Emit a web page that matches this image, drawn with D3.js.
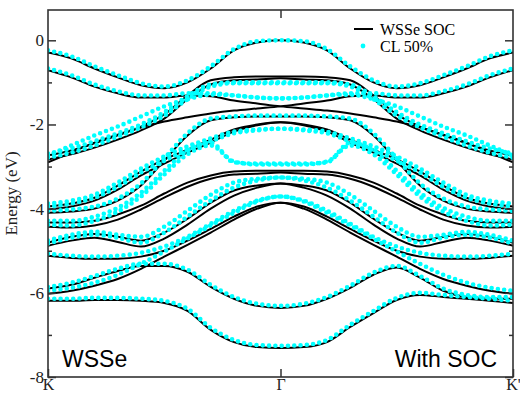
<!DOCTYPE html>
<html>
<head>
<meta charset="utf-8">
<script src="https://cdn.jsdelivr.net/npm/d3@7/dist/d3.min.js"></script>
<style>
  html, body { margin: 0; padding: 0; background: #fff; }
  svg { display: block; }
  .tick text { font-family: "Liberation Serif", "DejaVu Serif", serif; font-size: 17px; fill: #222; }
</style>
</head>
<body>
<div id="chart"></div>
<script>
// k path K -> Gamma -> K' (fraction of path)
const kPts = [0, 0.05, 0.1, 0.15, 0.2, 0.25, 0.3, 0.35, 0.4, 0.45, 0.5,
              0.55, 0.6, 0.65, 0.7, 0.75, 0.8, 0.85, 0.9, 0.95, 1];
const kTicks = [0, 0.5, 1];
const kLabels = ['K', 'Γ', "K'"];
const eMajor = [0, -2, -4, -6, -8];
const eMinor = [-1, -3, -5, -7];

// WSSe SOC bands (eV)
const socB1 = [-0.29,-0.43,-0.67,-0.88,-1.07,-1.14,-1.00,-0.67,-0.24,-0.05,0,-0.05,-0.24,-0.67,-1.00,-1.14,-1.07,-0.88,-0.67,-0.43,-0.29];
const socB2 = [-0.71,-0.88,-1.10,-1.26,-1.36,-1.36,-1.31,-1.33,-1.43,-1.50,-1.57,-1.62,-1.67,-1.74,-1.83,-1.93,-2.07,-2.24,-2.43,-2.67,-2.90];
const socB3 = [-2.90,-2.67,-2.43,-2.24,-2.07,-1.93,-1.83,-1.74,-1.67,-1.62,-1.57,-1.50,-1.43,-1.33,-1.31,-1.36,-1.36,-1.26,-1.10,-0.88,-0.71];
const socB4 = [-2.74,-2.62,-2.45,-2.26,-2.05,-1.76,-1.31,-0.95,-0.88,-0.86,-0.86,-0.86,-0.88,-0.95,-1.31,-1.76,-2.05,-2.26,-2.45,-2.62,-2.74];
const socB5 = [-2.83,-2.71,-2.55,-2.36,-2.14,-1.86,-1.40,-1.05,-0.95,-0.93,-0.90,-0.93,-0.95,-1.05,-1.40,-1.86,-2.14,-2.36,-2.55,-2.71,-2.83];
const socB6 = [-4.10,-4.07,-4.00,-3.81,-3.45,-2.86,-2.26,-1.90,-1.83,-1.81,-1.81,-1.81,-1.83,-1.90,-2.26,-2.86,-3.45,-3.81,-4.00,-4.07,-4.10];
const socB7 = [-3.95,-3.88,-3.74,-3.45,-3.12,-2.83,-2.60,-2.36,-2.12,-2.00,-1.95,-2.00,-2.12,-2.36,-2.60,-2.83,-3.12,-3.45,-3.74,-3.88,-3.95];
const socB8 = [-4.02,-3.95,-3.81,-3.55,-3.21,-2.93,-2.67,-2.43,-2.17,-2.02,-1.95,-2.02,-2.17,-2.43,-2.67,-2.93,-3.21,-3.55,-3.81,-3.95,-4.02];
const socB9 = [-4.33,-4.33,-4.29,-4.14,-3.93,-3.64,-3.38,-3.21,-3.12,-3.10,-3.10,-3.10,-3.12,-3.21,-3.38,-3.64,-3.93,-4.14,-4.29,-4.33,-4.33];
const socB10 = [-4.43,-4.45,-4.40,-4.26,-4.02,-3.74,-3.48,-3.29,-3.19,-3.17,-3.14,-3.17,-3.19,-3.29,-3.48,-3.74,-4.02,-4.26,-4.40,-4.45,-4.43];
const socB11 = [-4.81,-4.67,-4.60,-4.67,-4.76,-4.57,-4.24,-3.86,-3.57,-3.45,-3.40,-3.45,-3.57,-3.86,-4.24,-4.57,-4.76,-4.67,-4.60,-4.67,-4.81];
const socB12 = [-4.88,-4.76,-4.69,-4.79,-4.90,-4.71,-4.38,-4.00,-3.69,-3.50,-3.40,-3.50,-3.69,-4.00,-4.38,-4.71,-4.90,-4.79,-4.69,-4.76,-4.88];
const socB13 = [-5.12,-5.17,-5.19,-5.19,-5.14,-5.00,-4.76,-4.48,-4.19,-3.95,-3.86,-3.95,-4.19,-4.48,-4.76,-5.00,-5.14,-5.19,-5.19,-5.17,-5.12];
const socB14 = [-6.02,-5.95,-5.83,-5.67,-5.43,-5.14,-4.86,-4.57,-4.26,-4.00,-3.86,-4.00,-4.26,-4.57,-4.86,-5.14,-5.43,-5.67,-5.83,-5.95,-6.02];
const socB15 = [-5.90,-5.81,-5.64,-5.48,-5.36,-5.36,-5.50,-5.86,-6.14,-6.31,-6.36,-6.31,-6.14,-5.88,-5.57,-5.40,-5.64,-5.95,-6.10,-6.14,-6.14];
const socB16 = [-6.19,-6.19,-6.17,-6.17,-6.19,-6.24,-6.43,-6.88,-7.17,-7.29,-7.31,-7.29,-7.17,-6.81,-6.48,-6.17,-6.05,-6.10,-6.14,-6.19,-6.24];

// CL 50% bands (eV)
const clB1 = [-0.24,-0.38,-0.62,-0.83,-1.02,-1.10,-0.95,-0.62,-0.21,-0.02,0,-0.02,-0.21,-0.62,-0.95,-1.10,-1.02,-0.83,-0.62,-0.38,-0.24];
const clB2 = [-0.67,-0.83,-1.05,-1.21,-1.31,-1.31,-1.26,-1.26,-1.31,-1.36,-1.38,-1.36,-1.31,-1.29,-1.40,-1.57,-1.81,-2.05,-2.26,-2.50,-2.74];
const clB3 = [-2.74,-2.50,-2.26,-2.05,-1.81,-1.57,-1.40,-1.29,-1.31,-1.36,-1.38,-1.36,-1.31,-1.26,-1.26,-1.31,-1.31,-1.21,-1.05,-0.83,-0.67];
const clB4 = [-2.69,-2.57,-2.40,-2.21,-2.00,-1.71,-1.33,-1.05,-1.00,-1.00,-1.00,-1.00,-1.00,-1.05,-1.33,-1.71,-2.00,-2.21,-2.40,-2.57,-2.69];
const clB5 = [-2.79,-2.67,-2.50,-2.29,-2.07,-1.79,-1.40,-1.10,-1.02,-1.02,-1.02,-1.02,-1.02,-1.10,-1.40,-1.79,-2.07,-2.29,-2.50,-2.67,-2.79];
const clB6 = [-4.05,-4.02,-3.95,-3.76,-3.40,-2.81,-2.21,-1.86,-1.81,-1.79,-1.79,-1.79,-1.81,-1.86,-2.21,-2.81,-3.40,-3.76,-3.95,-4.02,-4.05];
const clB7 = [-3.88,-3.81,-3.67,-3.38,-3.05,-2.76,-2.52,-2.33,-2.17,-2.12,-2.10,-2.12,-2.17,-2.33,-2.52,-2.76,-3.05,-3.38,-3.67,-3.81,-3.88];
const clB8 = [-3.95,-3.88,-3.74,-3.48,-3.14,-2.86,-2.60,-2.40,-2.21,-2.14,-2.10,-2.14,-2.21,-2.40,-2.60,-2.86,-3.14,-3.48,-3.74,-3.88,-3.95];
const clB9 = [-4.29,-4.29,-4.19,-3.98,-3.62,-3.10,-2.62,-2.43,-2.90,-2.93,-2.93,-2.93,-2.90,-2.43,-2.62,-3.10,-3.62,-3.98,-4.19,-4.29,-4.29];
const clB10 = [-4.38,-4.40,-4.29,-4.07,-3.71,-3.19,-2.71,-2.50,-2.88,-2.95,-2.95,-2.95,-2.88,-2.50,-2.71,-3.19,-3.71,-4.07,-4.29,-4.40,-4.38];
const clB11 = [-4.76,-4.62,-4.55,-4.62,-4.67,-4.43,-4.05,-3.67,-3.38,-3.29,-3.26,-3.29,-3.38,-3.67,-4.05,-4.43,-4.67,-4.62,-4.55,-4.62,-4.76];
const clB12 = [-4.83,-4.69,-4.62,-4.69,-4.81,-4.57,-4.19,-3.81,-3.50,-3.33,-3.26,-3.33,-3.50,-3.81,-4.19,-4.57,-4.81,-4.69,-4.62,-4.69,-4.83];
const clB13 = [-5.07,-5.12,-5.14,-5.12,-5.05,-4.90,-4.67,-4.36,-4.05,-3.81,-3.71,-3.81,-4.05,-4.36,-4.67,-4.90,-5.05,-5.12,-5.14,-5.12,-5.07];
const clB14 = [-5.95,-5.88,-5.76,-5.57,-5.31,-5.02,-4.71,-4.40,-4.10,-3.83,-3.71,-3.83,-4.10,-4.40,-4.71,-5.02,-5.31,-5.57,-5.76,-5.88,-5.95];
const clB15 = [-5.86,-5.76,-5.60,-5.43,-5.31,-5.31,-5.45,-5.81,-6.10,-6.26,-6.31,-6.26,-6.10,-5.83,-5.52,-5.36,-5.60,-5.90,-6.05,-6.10,-6.10];
const clB16 = [-6.14,-6.14,-6.12,-6.12,-6.14,-6.19,-6.38,-6.83,-7.12,-7.24,-7.26,-7.24,-7.12,-6.76,-6.43,-6.12,-6.00,-6.05,-6.10,-6.14,-6.19];

const socBands = [socB1, socB2, socB3, socB4, socB5, socB6, socB7, socB8,
                  socB9, socB10, socB11, socB12, socB13, socB14, socB15, socB16];
const clBands = [clB1, clB2, clB3, clB4, clB5, clB6, clB7, clB8,
                 clB9, clB10, clB11, clB12, clB13, clB14, clB15, clB16];

const width = 520, height = 395;
const margin = {left: 48, right: 7, top: 10, bottom: 18};
const innerW = width - margin.left - margin.right;
const innerH = height - margin.top - margin.bottom;

const svg = d3.select('#chart').append('svg')
    .attr('width', width)
    .attr('height', height);

svg.append('rect').attr('width', width).attr('height', height).attr('fill', '#fff');

const chart = svg.append('g')
    .attr('transform', `translate(${margin.left},${margin.top})`);

const xScale = d3.scaleLinear().domain([0, 1]).range([0, innerW]);
const yScale = d3.scaleLinear().domain([-8, 0.72]).range([innerH, 0]);

chart.append('clipPath').attr('id', 'plotClip')
  .append('rect').attr('width', innerW).attr('height', innerH);

const line = d3.line()
    .x((d, i) => xScale(kPts[i]))
    .y(d => yScale(d))
    .curve(d3.curveMonotoneX);

const plot = chart.append('g').attr('clip-path', 'url(#plotClip)');

plot.selectAll('.soc')
    .data(socBands)
  .enter().append('path')
    .attr('class', 'soc')
    .attr('d', line)
    .attr('fill', 'none')
    .attr('stroke', '#000')
    .attr('stroke-width', 2);

// CL bands drawn as round dots along each band
plot.selectAll('.cl')
    .data(clBands)
  .enter().append('path')
    .attr('class', 'cl')
    .attr('d', line)
    .attr('fill', 'none')
    .attr('stroke', '#00ffff')
    .attr('stroke-width', 4.6)
    .attr('stroke-linecap', 'round')
    .attr('stroke-dasharray', '0,6.3');

// axes, ticks inward
const axisColor = '#333';
const styleAxis = g => {
    g.select('.domain').remove();
    g.selectAll('.tick line').attr('stroke', axisColor).attr('stroke-width', 1.5);
};

chart.append('g')
    .call(d3.axisLeft(yScale).tickValues(eMajor).tickSize(-8).tickPadding(4).tickFormat(d => String(d)))
    .call(styleAxis);
chart.append('g')
    .call(d3.axisLeft(yScale).tickValues(eMinor).tickSize(-4).tickFormat(''))
    .call(styleAxis);
chart.append('g')
    .attr('transform', `translate(${innerW},0)`)
    .call(d3.axisRight(yScale).tickValues(eMajor).tickSize(-8).tickFormat(''))
    .call(styleAxis);
chart.append('g')
    .attr('transform', `translate(${innerW},0)`)
    .call(d3.axisRight(yScale).tickValues(eMinor).tickSize(-4).tickFormat(''))
    .call(styleAxis);
chart.append('g')
    .attr('transform', `translate(0,${innerH})`)
    .call(d3.axisBottom(xScale).tickValues(kTicks).tickSize(-8).tickPadding(2)
        .tickFormat((d, i) => kLabels[i]))
    .call(styleAxis)
    .call(g => g.selectAll('text').style('font-size', '16px'));
chart.append('g')
    .call(d3.axisTop(xScale).tickValues([0.5]).tickSize(-8).tickFormat(''))
    .call(styleAxis);

chart.selectAll('.tick text').attr('fill', '#222');

chart.append('rect')
    .attr('width', innerW)
    .attr('height', innerH)
    .attr('fill', 'none')
    .attr('stroke', axisColor)
    .attr('stroke-width', 1.6);

svg.append('text')
    .attr('transform', `translate(17,${margin.top + innerH / 2}) rotate(-90)`)
    .attr('text-anchor', 'middle')
    .style('font-family', '"Liberation Serif", serif')
    .style('font-size', '17px')
    .attr('fill', '#222')
    .text('Energy (eV)');

// legend
const legend = svg.append('g');
legend.append('line')
    .attr('x1', 354).attr('x2', 373).attr('y1', 29).attr('y2', 29)
    .attr('stroke', '#000').attr('stroke-width', 2);
legend.append('text')
    .attr('x', 380).attr('y', 35)
    .style('font-family', '"Liberation Serif", serif').style('font-size', '16px')
    .text('WSSe SOC');
legend.append('circle')
    .attr('cx', 363).attr('cy', 46).attr('r', 2.4)
    .attr('fill', '#00ffff');
legend.append('text')
    .attr('x', 380).attr('y', 52)
    .style('font-family', '"Liberation Serif", serif').style('font-size', '16px')
    .text('CL 50%');

svg.append('text')
    .attr('x', 62).attr('y', 367)
    .style('font-family', '"Liberation Sans", Arial, sans-serif').style('font-size', '23px')
    .text('WSSe');
svg.append('text')
    .attr('x', 497).attr('y', 367)
    .attr('text-anchor', 'end')
    .style('font-family', '"Liberation Sans", Arial, sans-serif').style('font-size', '23px')
    .text('With SOC');
</script>
</body>
</html>
